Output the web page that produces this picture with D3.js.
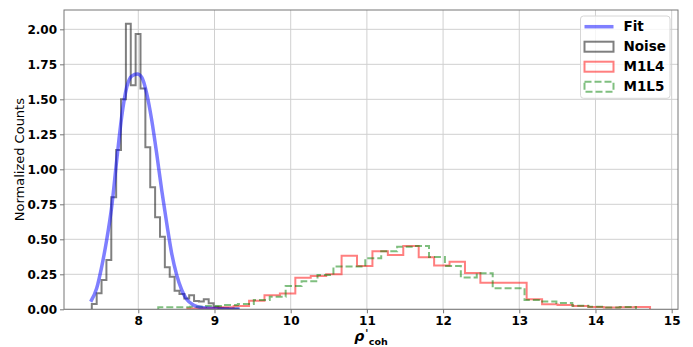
<!DOCTYPE html>
<html>
<head>
<meta charset="utf-8">
<script src="https://cdn.jsdelivr.net/npm/d3@7"></script>
<style>
  body { margin: 0; background: #fff; }
  svg { font-family: "DejaVu Sans", sans-serif; }
</style>
</head>
<body>
<div id="chart"></div>
<script>
// histogram heights (normalized counts, 30 bins each)
const noiseStart = 7.39, noiseWidth = 0.0639;
const noiseCounts = [0.038, 0.114, 0.209, 0.352, 0.80, 1.138, 1.50, 2.04, 1.60, 1.966,
  1.578, 1.157, 0.871, 0.657, 0.519, 0.30, 0.233, 0.132, 0.11, 0.078,
  0.10, 0.06, 0.055, 0.072, 0.043, 0.018, 0.01, 0.008, 0.004, 0.006];

const m1l4Start = 8.644, m1l4Width = 0.2024;
const m1l4Counts = [0.005, 0.01, 0.015, 0.024, 0.061, 0.10, 0.112, 0.226, 0.238, 0.25,
  0.383, 0.309, 0.414, 0.388, 0.452, 0.371, 0.313, 0.34, 0.259, 0.19,
  0.19, 0.19, 0.072, 0.036, 0.031, 0.024, 0.016, 0.012, 0.014, 0.017];

const m1l5Start = 8.262, m1l5Width = 0.209;
const m1l5Counts = [0.014, 0.014, 0.018, 0.024, 0.03, 0.038, 0.066, 0.09, 0.166, 0.20,
  0.245, 0.305, 0.305, 0.364, 0.414, 0.447, 0.452, 0.373, 0.31, 0.228,
  0.257, 0.15, 0.15, 0.066, 0.055, 0.045, 0.026, 0.018, 0.012, 0.016];

// fit curve, points
const fitX = [7.375, 7.454, 7.52, 7.585, 7.651, 7.717, 7.782, 7.848, 7.913, 7.987,
  8.045, 8.11, 8.176, 8.241, 8.307, 8.373, 8.438, 8.504, 8.57, 8.635,
  8.722, 8.853, 9.029, 9.335];
const fitY = [0.054, 0.15, 0.305, 0.495, 0.733, 1.066, 1.376, 1.586, 1.666, 1.68,
  1.657, 1.543, 1.352, 1.114, 0.852, 0.614, 0.40, 0.245, 0.138, 0.071,
  0.031, 0.011, 0.004, 0.001];

const xTicks = [8, 9, 10, 11, 12, 13, 14, 15];
const yTicks = [0, 0.25, 0.5, 0.75, 1.0, 1.25, 1.5, 1.75, 2.0];
const legendNames = ["Fit", "Noise", "M1L4", "M1L5"];

let width = 693,
    height = 347;
let margin = {left: 64, right: 15, top: 10, bottom: 37.7};

let svg = d3.select("#chart").append("svg")
  .attr("width", width)
  .attr("height", height);

let x = d3.scaleLinear()
  .domain([7.025, 15.083])
  .range([margin.left, width - margin.right]);

let y = d3.scaleLinear()
  .domain([0, 2.138])
  .range([height - margin.bottom, margin.top]);

svg.append("defs").append("clipPath")
  .attr("id", "clip")
  .append("rect")
    .attr("x", margin.left)
    .attr("y", margin.top)
    .attr("width", x.range()[1] - x.range()[0])
    .attr("height", y.range()[0] - y.range()[1]);

// grid
let grid = svg.append("g").attr("stroke", "#d0d0d0").attr("stroke-width", 1);
grid.selectAll(".gx").data(xTicks).enter().append("line")
  .attr("x1", d => x(d)).attr("x2", d => x(d))
  .attr("y1", y.range()[0]).attr("y2", y.range()[1]);
grid.selectAll(".gy").data(yTicks).enter().append("line")
  .attr("x1", x.range()[0]).attr("x2", x.range()[1])
  .attr("y1", d => y(d)).attr("y2", d => y(d));

// step outline like matplotlib histtype='step'
function stepPath(start, w, counts) {
  let pts = [[start, 0]];
  counts.forEach((c, i) => {
    pts.push([start + i * w, c]);
    pts.push([start + (i + 1) * w, c]);
  });
  pts.push([start + counts.length * w, 0]);
  return d3.line().x(d => x(d[0])).y(d => y(d[1]))(pts);
}

let plot = svg.append("g").attr("clip-path", "url(#clip)");

plot.append("path")
  .attr("d", stepPath(noiseStart, noiseWidth, noiseCounts))
  .attr("fill", "none")
  .attr("stroke", "rgba(0,0,0,0.5)")
  .attr("stroke-width", 2);

plot.append("path")
  .attr("d", stepPath(m1l4Start, m1l4Width, m1l4Counts))
  .attr("fill", "none")
  .attr("stroke", "rgba(255,0,0,0.5)")
  .attr("stroke-width", 2);

plot.append("path")
  .attr("d", stepPath(m1l5Start, m1l5Width, m1l5Counts))
  .attr("fill", "none")
  .attr("stroke", "rgba(0,128,0,0.5)")
  .attr("stroke-width", 2)
  .attr("stroke-dasharray", "7,3");

plot.append("path")
  .attr("d", d3.line().curve(d3.curveMonotoneX)
    .x((d, i) => x(fitX[i])).y(d => y(d))(fitY))
  .attr("fill", "none")
  .attr("stroke", "rgba(0,0,255,0.5)")
  .attr("stroke-width", 3.5);

// axes
let xAxis = svg.append("g")
  .attr("transform", `translate(0,${y.range()[0]})`)
  .call(d3.axisBottom(x).tickValues(xTicks).tickSize(4).tickPadding(3).tickFormat(d3.format("d")));
let yAxis = svg.append("g")
  .attr("transform", `translate(${x.range()[0]},0)`)
  .call(d3.axisLeft(y).tickValues(yTicks).tickSize(4).tickPadding(3).tickFormat(d3.format(".2f")));

[xAxis, yAxis].forEach(a => {
  a.select(".domain").remove();
  a.selectAll(".tick line").attr("stroke", "#777");
  a.selectAll("text")
    .attr("fill", "#000")
    .attr("font-size", 12)
    .attr("font-weight", "bold")
    .attr("font-family", "DejaVu Sans");
});

svg.append("rect")
  .attr("x", x.range()[0])
  .attr("y", y.range()[1])
  .attr("width", x.range()[1] - x.range()[0])
  .attr("height", y.range()[0] - y.range()[1])
  .attr("fill", "none")
  .attr("stroke", "#777")
  .attr("stroke-width", 1);

// labels
svg.append("text")
  .attr("transform", `translate(24,${(y.range()[0] + y.range()[1]) / 2}) rotate(-90)`)
  .attr("text-anchor", "middle")
  .attr("font-size", 13)
  .attr("fill", "#000")
  .text("Normalized Counts");

// x label: rho prime with "coh" subscript, one text element
let xl = svg.append("text")
  .attr("x", (x.range()[0] + x.range()[1]) / 2)
  .attr("y", 341)
  .attr("text-anchor", "middle")
  .attr("font-size", 14)
  .attr("font-weight", "bold")
  .attr("fill", "#000");
xl.append("tspan").attr("font-style", "italic").text("ρ");
xl.append("tspan").attr("dy", -4.5).attr("dx", 1).attr("font-size", 10).text("'");
xl.append("tspan").attr("dy", 8).attr("dx", 0.5).attr("font-size", 9.5).text("coh");

// legend
let lg = svg.append("g").attr("transform", "translate(580.5,16)");
lg.append("rect")
  .attr("width", 89.5).attr("height", 82.3)
  .attr("rx", 3)
  .attr("fill", "rgba(255,255,255,0.8)")
  .attr("stroke", "#d6d6d6");

let handles = [
  {stroke: "rgba(0,0,255,0.5)", dash: null, line: true},
  {stroke: "rgba(0,0,0,0.5)", dash: null},
  {stroke: "rgba(255,0,0,0.5)", dash: null},
  {stroke: "rgba(0,128,0,0.5)", dash: "7,3"}
];

legendNames.forEach((name, i) => {
  let cy = 10.7 + i * 20;
  let h = handles[i];
  if (h.line) {
    lg.append("line")
      .attr("x1", 4).attr("x2", 33)
      .attr("y1", cy).attr("y2", cy)
      .attr("stroke", h.stroke).attr("stroke-width", 3.5);
  } else {
    lg.append("rect")
      .attr("x", 4).attr("y", cy - 5)
      .attr("width", 29).attr("height", 10)
      .attr("fill", "none")
      .attr("stroke", h.stroke).attr("stroke-width", 2)
      .attr("stroke-dasharray", h.dash);
  }
  lg.append("text")
    .attr("x", 43).attr("y", cy)
    .attr("dy", "0.35em")
    .attr("font-size", 13.5)
    .attr("font-weight", "bold")
    .attr("fill", "#000")
    .text(name);
});
</script>
</body>
</html>
